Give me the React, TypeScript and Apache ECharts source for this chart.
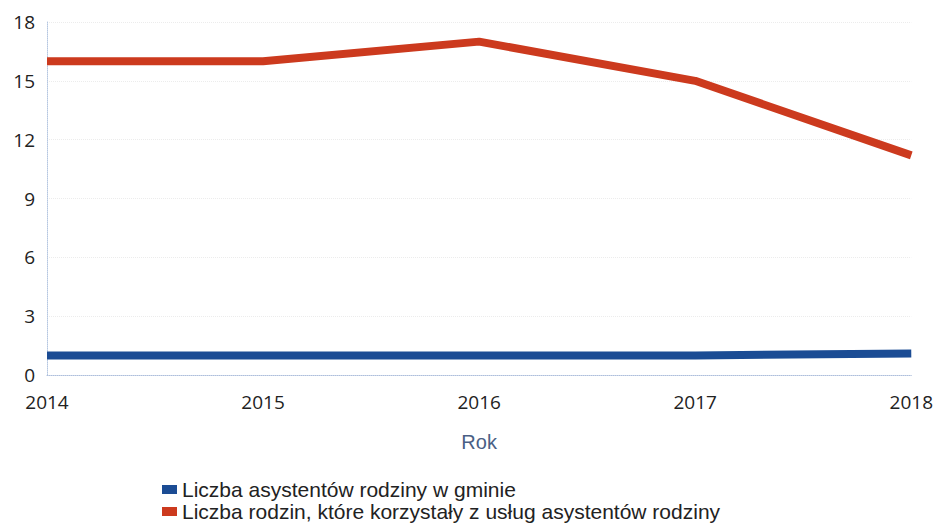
import React, { useEffect, useRef } from "react";
import * as echarts from "echarts";

const years = ["2014", "2015", "2016", "2017", "2018"];
const assistants = [1, 1, 1, 1, 1.1];
const families = [16, 16, 17, 15, 11.2];
const yTicks = [0, 3, 6, 9, 12, 15, 18];
const seriesNames = [
  "Liczba asystentów rodziny w gminie",
  "Liczba rodzin, które korzystały z usług asystentów rodziny",
];

export default function App() {
  const ref = useRef<HTMLDivElement>(null);
  useEffect(() => {
    const chart = echarts.init(ref.current!, null, { renderer: "svg" });
    const legendBase = {
      left: 162,
      padding: 0,
      itemWidth: 15,
      itemHeight: 9,
      icon: "rect",
      textStyle: { fontFamily: "Liberation Sans", fontSize: 21, lineHeight: 21, color: "#222" },
    };
    chart.setOption({
      animation: false,
      backgroundColor: "#ffffff",
      grid: { left: 47, right: 24, top: 22, bottom: 149 },
      legend: [
        { ...legendBase, top: 479, data: [seriesNames[0]] },
        { ...legendBase, top: 501, data: [seriesNames[1]] },
      ],
      xAxis: {
        type: "category",
        data: years,
        boundaryGap: false,
        name: "Rok",
        nameLocation: "middle",
        nameGap: 57,
        nameTextStyle: { fontFamily: "Liberation Sans", fontSize: 20, color: "#4a5f85" },
        axisLine: { show: true, lineStyle: { color: "#aebfdc", type: "dotted", width: 1 } },
        axisTick: { show: false },
        axisLabel: { fontFamily: "Open Sans", fontSize: 19, color: "#222", margin: 17 },
        splitLine: { show: false },
      },
      yAxis: {
        type: "value",
        min: 0,
        max: 18,
        interval: 3,
        axisLine: { show: true, lineStyle: { color: "#b5c6e0", type: "dotted", width: 1 } },
        axisTick: { show: false },
        axisLabel: {
          fontFamily: "Open Sans",
          fontSize: 19,
          color: "#222",
          margin: 12,
          formatter: (v: number) => (yTicks.includes(v) ? String(v) : ""),
        },
        splitLine: { show: true, lineStyle: { color: "#ececec", type: "dotted", width: 1 } },
      },
      series: [
        {
          name: seriesNames[0],
          type: "line",
          data: assistants,
          showSymbol: false,
          symbol: "none",
          lineStyle: { color: "#1b4c94", width: 8 },
          itemStyle: { color: "#1b4c94" },
        },
        {
          name: seriesNames[1],
          type: "line",
          data: families,
          showSymbol: false,
          symbol: "none",
          lineStyle: { color: "#cc3a1e", width: 8 },
          itemStyle: { color: "#cc3a1e" },
        },
      ],
    });
    return () => chart.dispose();
  }, []);
  return <div ref={ref} style={{ width: 936, height: 524, position: "absolute", left: 0, top: 0 }} />;
}
